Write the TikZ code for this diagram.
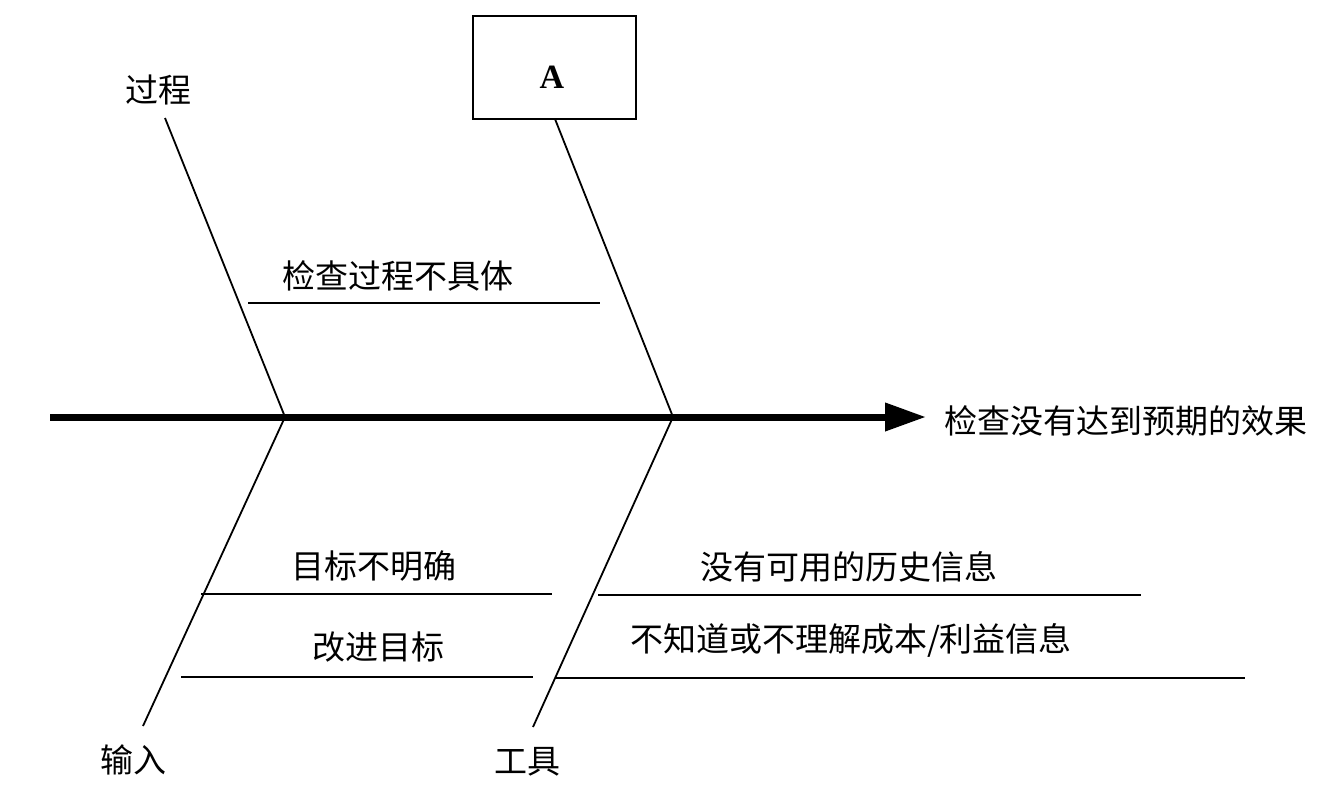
\documentclass[tikz,border=0pt]{standalone}
\usepackage{fontspec}
\setmainfont{Liberation Serif}
\newfontfamily\cjk{Noto Sans CJK SC}
\usetikzlibrary{arrows.meta}
\tikzset{fishlabel/.style={font=\cjk\fontsize{33}{38}\selectfont,inner sep=0pt},
	bone/.style={line width=1.8pt},
	twig/.style={line width=2.6pt},
	spine/.style={line width=7pt,-{Triangle[length=41pt,width=27pt]}}}

\begin{document}
\begin{tikzpicture}[x=1pt,y=-1pt]
	\useasboundingbox (0,0) rectangle (1341,806);
	%
	\node[fishlabel] (Guo) at (158,90) {过程};
	\node[fishlabel] (Shu) at (133,760) {输入};
	\node[fishlabel] (Gong) at (527,762) {工具};
	\node[draw,line width=2pt,minimum width=163pt,minimum height=103pt] (BoxA) at (554.5,67.5) {};
	\node[font=\bfseries\fontsize{34}{40}\selectfont,inner sep=0pt] (LabelA) at (552,77) {A};
	\node[fishlabel,anchor=west] (Effect) at (944,421) {检查没有达到预期的效果};
	%
	\coordinate (Tail) at (50,417);
	\coordinate (Head) at (926,417);
	\coordinate (J1) at (285,417);
	\coordinate (J2) at (673,417);
	\coordinate (P1) at (165,118);
	\coordinate (A1) at (555,119);
	\coordinate (I1) at (143,726);
	\coordinate (T1) at (533,727);
	%
	\draw[spine] (Tail) -- (Head);
	\path[bone]
	(P1) edge (J1)
	(A1) edge (J2)
	(J1) edge (I1)
	(J2) edge (T1);
	%
	\node[fishlabel] (C1) at (398,276) {检查过程不具体};
	\node[fishlabel] (C2) at (374,566) {目标不明确};
	\node[fishlabel] (C3) at (378,647) {改进目标};
	\node[fishlabel] (C4) at (849,567) {没有可用的历史信息};
	\node[fishlabel] (C5) at (851,640) {不知道或不理解成本/利益信息};
	%
	\coordinate (C1s) at (248,303); \coordinate (C1e) at (600,303);
	\coordinate (C2s) at (201,594); \coordinate (C2e) at (552,594);
	\coordinate (C3s) at (181,677); \coordinate (C3e) at (533,677);
	\coordinate (C4s) at (598,595); \coordinate (C4e) at (1141,595);
	\coordinate (C5s) at (555,678); \coordinate (C5e) at (1245,678);
	\path[twig]
	(C1s) edge (C1e)
	(C2s) edge (C2e)
	(C3s) edge (C3e)
	(C4s) edge (C4e)
	(C5s) edge (C5e);
\end{tikzpicture}
\end{document}
